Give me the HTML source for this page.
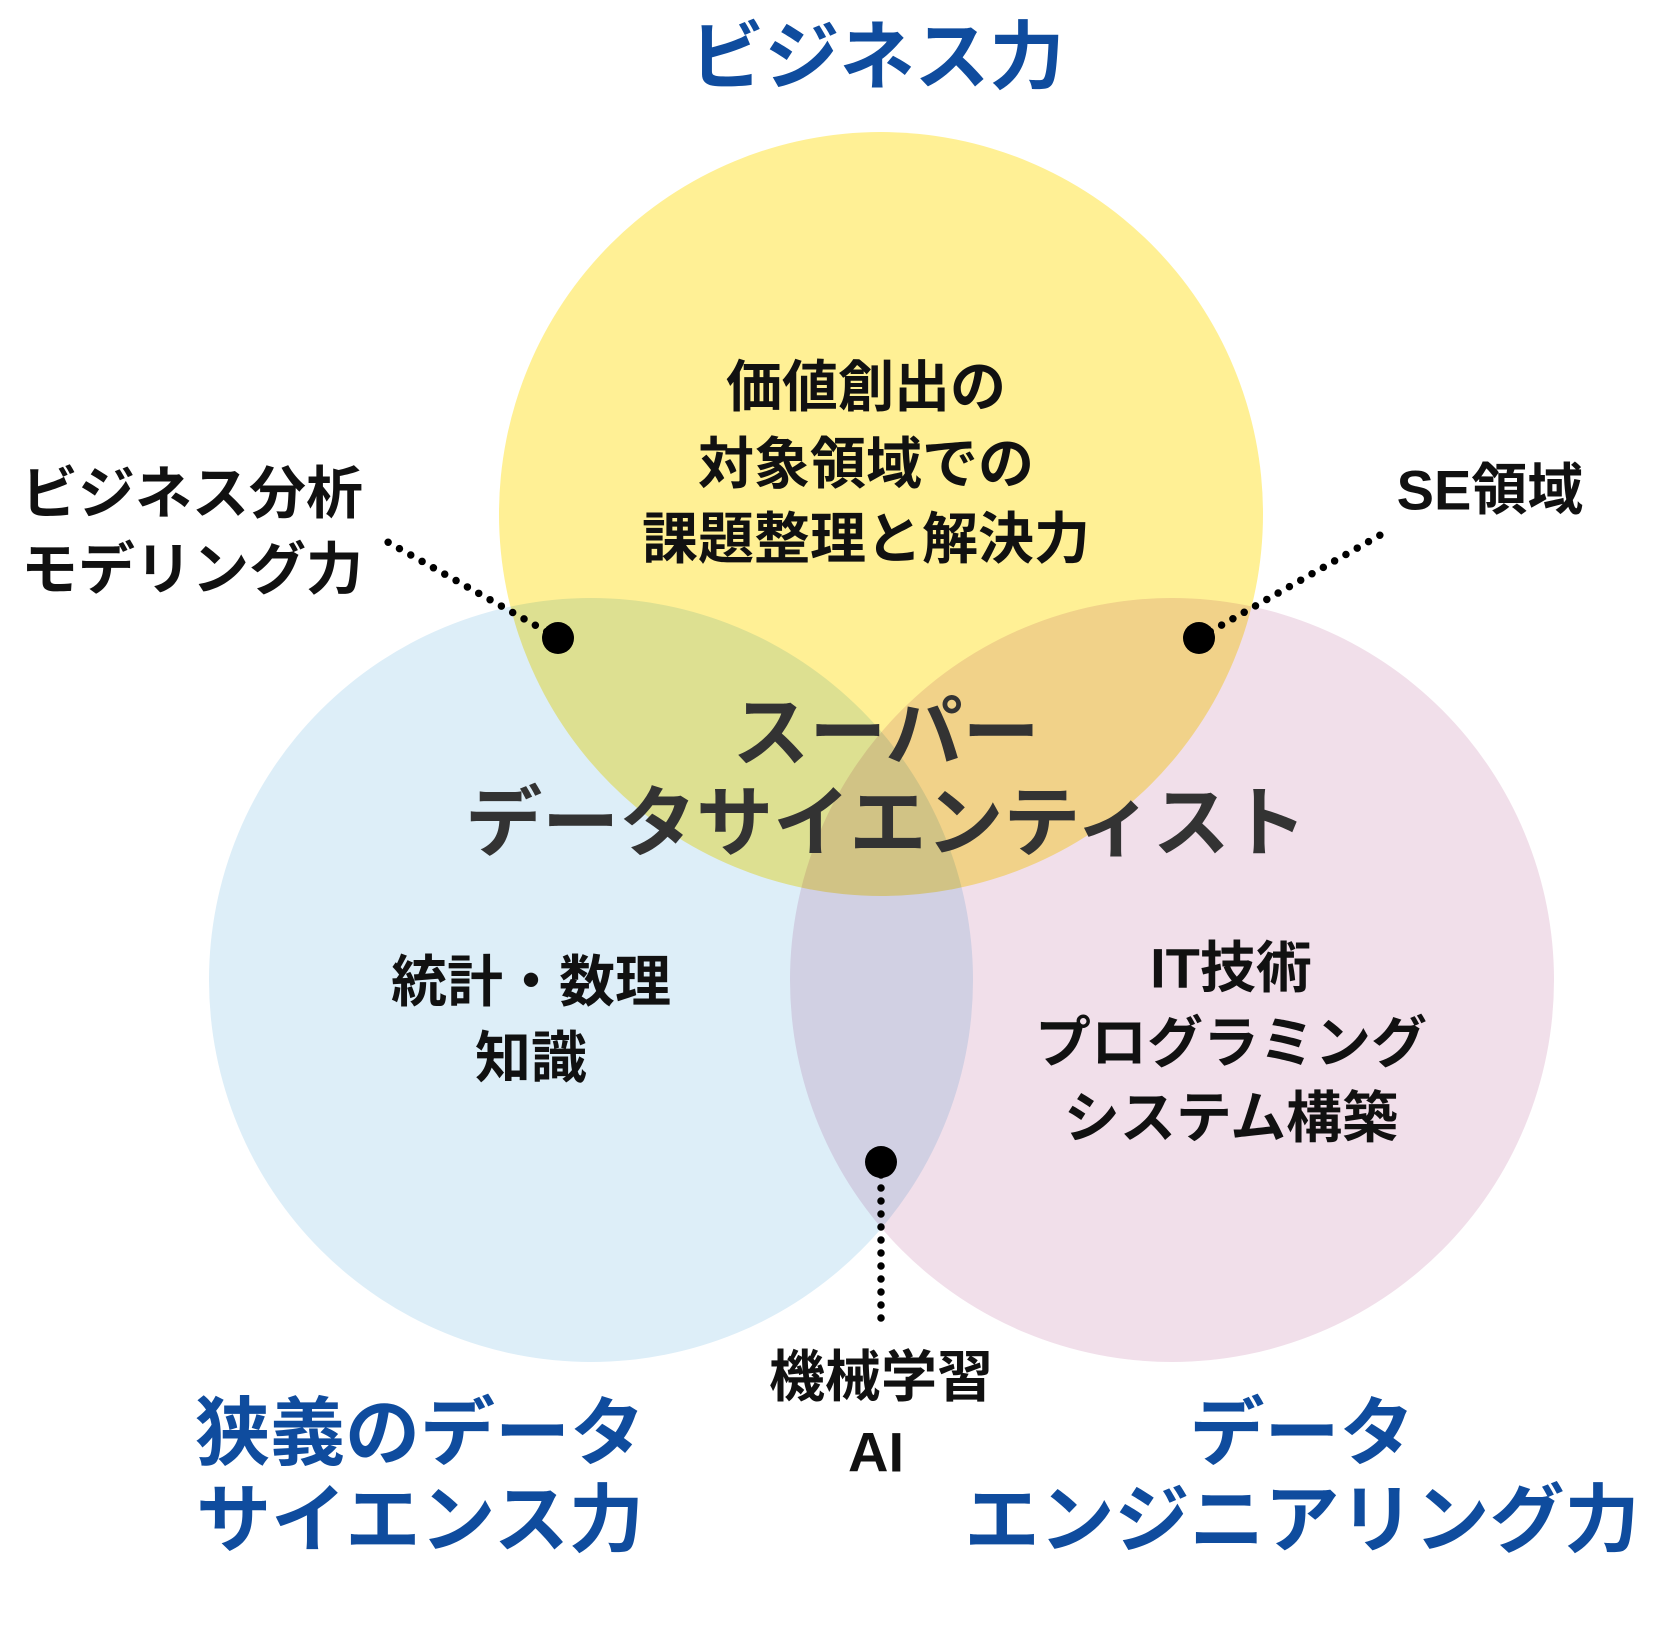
<!DOCTYPE html>
<html><head><meta charset="utf-8"><style>
html,body{margin:0;padding:0;background:#fff;}
svg{display:block;}
text{font-family:"Liberation Sans","Noto Sans CJK JP",sans-serif;font-weight:700;}
</style></head><body>
<svg width="1662" height="1644" viewBox="0 0 1662 1644" xmlns="http://www.w3.org/2000/svg">
<rect width="1662" height="1644" fill="#fff"/>
<g style="isolation:isolate">
<circle cx="591" cy="980" r="382" fill="#ddeef8" style="mix-blend-mode:multiply"/>
<circle cx="1172" cy="980" r="382" fill="#f1dfea" style="mix-blend-mode:multiply"/>
<circle cx="881" cy="514" r="382" fill="#fff095" style="mix-blend-mode:multiply"/>
</g>
<g stroke="#000" stroke-width="7.5" stroke-linecap="round" stroke-dasharray="0 13" fill="none">
<line x1="558" y1="638" x2="377" y2="536"/>
<line x1="1199" y1="638" x2="1382" y2="534"/>
<line x1="881" y1="1162" x2="881" y2="1330"/>
</g>
<circle cx="558" cy="638" r="16" fill="#000"/>
<circle cx="1199" cy="638" r="16" fill="#000"/>
<circle cx="881" cy="1162" r="16" fill="#000"/>
<g fill="#0f4c9e" font-size="75" text-anchor="middle" dominant-baseline="central">
<text x="877" y="57">ビジネス力</text>
<text x="420" y="1433">狭義のデータ</text>
<text x="420" y="1520">サイエンス力</text>
<text x="1302" y="1433">データ</text>
<text x="1302" y="1520">エンジニアリング力</text>
</g>
<g fill="#333" font-size="77" text-anchor="middle" dominant-baseline="central">
<text x="886" y="734">スーパー</text>
<text x="886" y="824">データサイエンティスト</text>
</g>
<g fill="#111" font-size="56" text-anchor="middle" dominant-baseline="central">
<text x="866" y="387">価値創出の</text>
<text x="866" y="464">対象領域での</text>
<text x="866" y="539">課題整理と解決力</text>
<text x="531" y="982">統計・数理</text>
<text x="531" y="1058">知識</text>
<text x="1231" y="968">IT技術</text>
<text x="1231" y="1043">プログラミング</text>
<text x="1231" y="1118">システム構築</text>
<text x="881" y="1377">機械学習</text>
<text x="876" y="1452">AI</text>
<text x="1490" y="490">SE領域</text>
</g>
<g fill="#111" font-size="57" dominant-baseline="central">
<text x="21" y="494">ビジネス分析</text>
<text x="21" y="570">モデリング力</text>
</g>
</svg>
</body></html>
